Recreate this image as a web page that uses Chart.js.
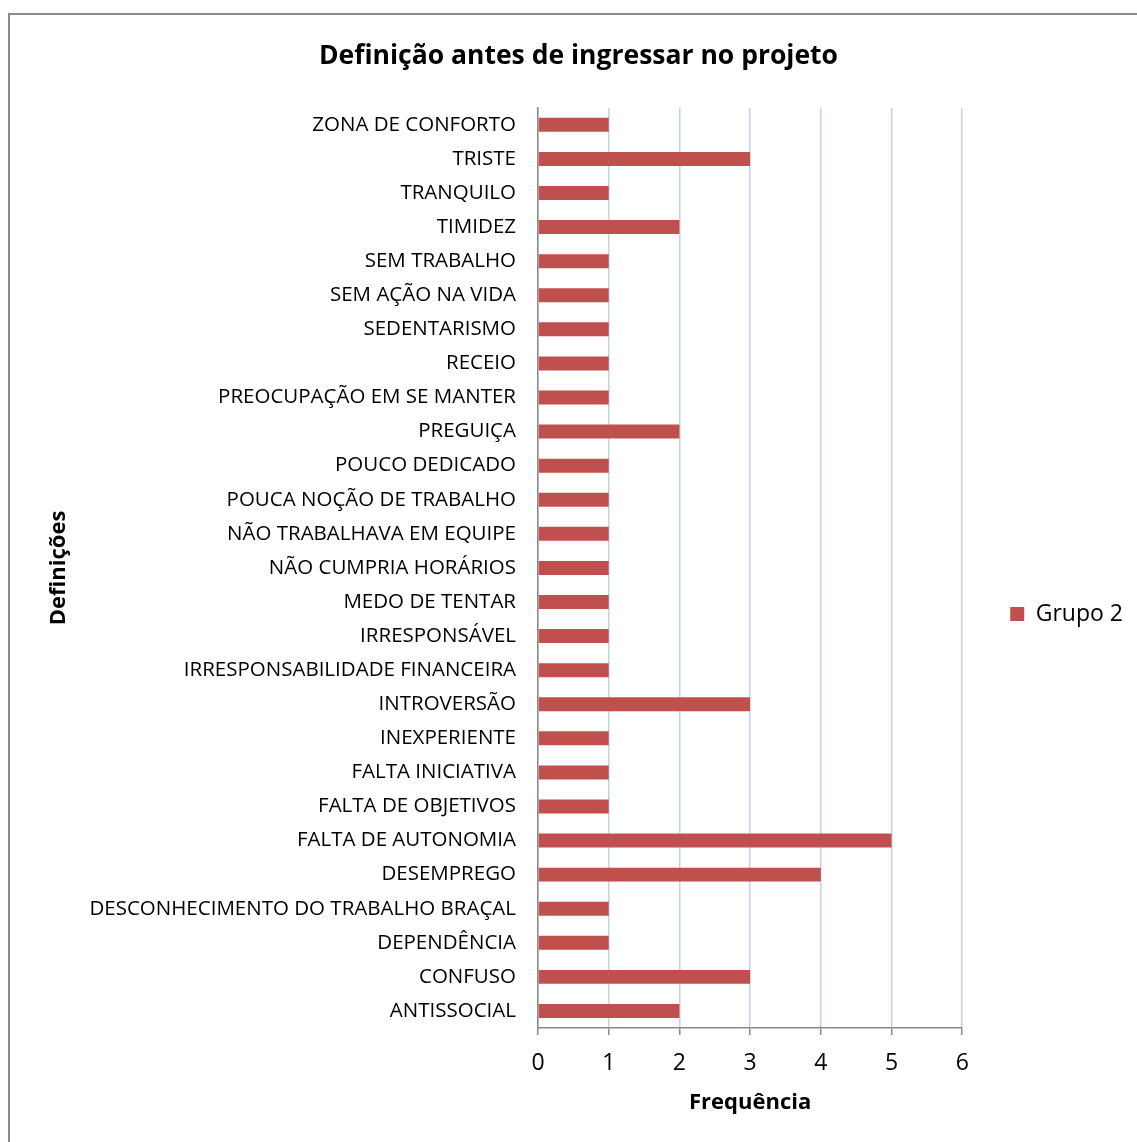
<!DOCTYPE html>
<html>
<head>
<meta charset="utf-8">
<script src="https://cdn.jsdelivr.net/npm/chart.js@4/dist/chart.umd.min.js"></script>
<style>
  html, body { margin: 0; padding: 0; background: #ffffff; }
  #wrap { width: 1137px; height: 1142px; position: relative; }
</style>
</head>
<body>
<div id="wrap"><canvas id="chart"></canvas></div>
<script>
// Categories, top to bottom as listed on the vertical axis
const categories = [
  'ZONA DE CONFORTO',
  'TRISTE',
  'TRANQUILO',
  'TIMIDEZ',
  'SEM TRABALHO',
  'SEM AÇÃO NA VIDA',
  'SEDENTARISMO',
  'RECEIO',
  'PREOCUPAÇÃO EM SE MANTER',
  'PREGUIÇA',
  'POUCO DEDICADO',
  'POUCA NOÇÃO DE TRABALHO',
  'NÃO TRABALHAVA EM EQUIPE',
  'NÃO CUMPRIA HORÁRIOS',
  'MEDO DE TENTAR',
  'IRRESPONSÁVEL',
  'IRRESPONSABILIDADE FINANCEIRA',
  'INTROVERSÃO',
  'INEXPERIENTE',
  'FALTA INICIATIVA',
  'FALTA DE OBJETIVOS',
  'FALTA DE AUTONOMIA',
  'DESEMPREGO',
  'DESCONHECIMENTO DO TRABALHO BRAÇAL',
  'DEPENDÊNCIA',
  'CONFUSO',
  'ANTISSOCIAL'
];

// Frequency for each category (Grupo 2)
const grupo2 = [1, 3, 1, 2, 1, 1, 1, 1, 1, 2, 1, 1, 1, 1, 1, 1, 1, 3, 1, 1, 1, 5, 4, 1, 1, 3, 2];

// Horizontal axis ticks
const xTicks = [0, 1, 2, 3, 4, 5, 6];

const FONT = "'Open Sans', 'DejaVu Sans', sans-serif";

// Layout constants
const PAD = { left: 24, right: 4, top: 0, bottom: 10 };
const PLOT_LEFT = 538;      // x of the value axis origin
const PLOT_BOTTOM = 1028;   // y of the category axis baseline

// Thin grey frame around the figure
const framePlugin = {
  id: 'frame',
  beforeDraw(chart) {
    const ctx = chart.ctx;
    ctx.save();
    ctx.fillStyle = '#ffffff';
    ctx.fillRect(0, 0, chart.width, chart.height);
    ctx.strokeStyle = '#8a8a8a';
    ctx.lineWidth = 2;
    ctx.beginPath();
    ctx.moveTo(9, chart.height);
    ctx.lineTo(9, 14);
    ctx.lineTo(chart.width, 14);
    ctx.stroke();
    ctx.restore();
  }
};

// Nudge the legend block a little lower than the default vertical centre
const legendShiftPlugin = {
  id: 'legendShift',
  afterLayout(chart) {
    if (chart.legend) chart.legend.top += 96;
  }
};

new Chart(document.getElementById('chart'), {
  type: 'bar',
  data: {
    labels: categories,
    datasets: [{
      label: 'Grupo 2',
      data: grupo2,
      backgroundColor: '#c0504d',
      borderWidth: 0,
      categoryPercentage: 1,
      barPercentage: 0.41
    }]
  },
  options: {
    indexAxis: 'y',
    responsive: true,
    maintainAspectRatio: false,
    animation: false,
    layout: { padding: PAD },
    plugins: {
      title: {
        display: true,
        text: 'Definição antes de ingressar no projeto',
        color: '#000000',
        font: { family: FONT, size: 26.5, weight: 'bold' },
        padding: { top: 41, bottom: 35 }
      },
      legend: {
        position: 'right',
        labels: {
          color: '#000000',
          font: { family: FONT, size: 23 },
          boxWidth: 14,
          boxHeight: 14,
          padding: 48
        }
      },
      tooltip: { enabled: false }
    },
    scales: {
      x: {
        min: 0,
        max: 6,
        afterBuildTicks(scale) {
          scale.ticks = xTicks.map(v => ({ value: v }));
        },
        afterFit(scale) {
          scale.height = 1142 - PAD.bottom - PLOT_BOTTOM;
        },
        grid: {
          color: '#bfd3ec',
          lineWidth: 1.5,
          tickColor: '#8a8a8a',
          tickLength: 7,
          drawTicks: true
        },
        border: { color: '#8a8a8a', width: 1.5 },
        ticks: {
          color: '#000000',
          font: { family: FONT, size: 23 },
          padding: 15
        },
        title: {
          display: true,
          text: 'Frequência',
          color: '#000000',
          font: { family: FONT, size: 22, weight: 'bold' },
          padding: { top: 0, bottom: 16 }
        }
      },
      y: {
        afterFit(scale) {
          scale.width = PLOT_LEFT - PAD.left;
        },
        grid: { display: false, drawTicks: false },
        border: { color: '#8a8a8a', width: 1.5 },
        ticks: {
          color: '#000000',
          font: { family: FONT, size: 20.5 },
          padding: 22,
          autoSkip: false
        },
        title: {
          display: true,
          text: 'Definições',
          color: '#000000',
          font: { family: FONT, size: 22, weight: 'bold' },
          padding: { top: 22, bottom: 0 }
        }
      }
    }
  },
  plugins: [framePlugin, legendShiftPlugin]
});
</script>
</body>
</html>
